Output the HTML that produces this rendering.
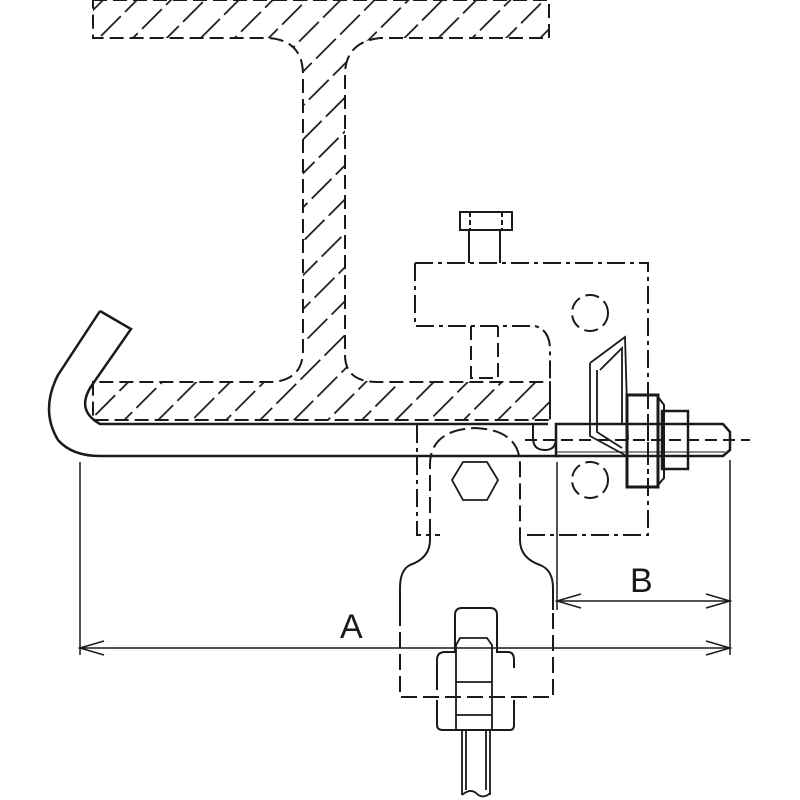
<!DOCTYPE html>
<html><head><style>html,body{margin:0;padding:0;background:#fff}svg{display:block}</style></head><body>
<svg width="800" height="800" viewBox="0 0 800 800" xmlns="http://www.w3.org/2000/svg" fill="none" stroke="#1a1a1a" stroke-width="2">
<defs>
<pattern id="h" patternUnits="userSpaceOnUse" width="24" height="34" patternTransform="rotate(45)">
<line x1="0" y1="0" x2="0" y2="34" stroke="#1a1a1a" stroke-width="3.5" stroke-dasharray="22 6"/>
</pattern>
<clipPath id="beam"><path d="M93,0 L549,0 L549,38 L380,38 Q345,42 345,75 L345,355 Q345,382 378,382 L550,382 L550,420 L93,420 L93,382 L272,382 Q303,380 303,350 L303,75 Q303,40 268,38 L93,38 Z"/></clipPath>
</defs>
<g stroke-dasharray="14 6">
<rect x="0" y="0" width="800" height="800" fill="url(#h)" stroke="none" clip-path="url(#beam)"/>
<path d="M93,0 L549,0 L549,38 L380,38 Q345,42 345,75 L345,355 Q345,382 378,382 L550,382 L550,420 L93,420 L93,382 L272,382 Q303,380 303,350 L303,75 Q303,40 268,38 L93,38 Z"/>
<path d="M415,263 L648,263 L648,535 L525,535 M415,263 L415,326 L535,326 Q550,330 550,350 L550,420 M417,425 L417,535 L440,535" stroke-dasharray="18 5 4 5"/>
<circle cx="590" cy="313" r="18"/>
<circle cx="590" cy="480" r="18"/>
<path d="M471,326 L471,378 L498,378 L498,326"/>
</g>
<path d="M460,212 L512,212 L512,230 L460,230 Z"/>
<path d="M469,230 L469,263 M500,230 L500,263"/>
<path d="M470,212 L470,230 M502,212 L502,230" stroke-dasharray="5 3"/>
<path d="M100,311 L131,329 L92,385 Q75,410 100,424 L548,424" stroke-width="2.5"/>
<path d="M100,311 L58,375 Q40,410 58,440 Q72,456 100,456 L560,456" stroke-width="2.5"/>
<path d="M533,424 L533,438 Q533,450 545,450 Q556,450 556,438 L556,424" />
<path d="M556,424 L723,424 L730,432 L730,450 L723,456 L556,456 Z" stroke-width="2.5"/>
<line x1="556" y1="452" x2="725" y2="452" stroke-width="1"/>
<line x1="525" y1="440" x2="750" y2="440" stroke-dasharray="12 6"/>
<path d="M590,363 L625,337 L628,440 M600,370 L622,348 L622,425 M590,363 L590,436 L625,455 M597,370 L597,432 L622,448" stroke-width="1.8"/>
<rect x="627" y="395" width="31" height="92" stroke-width="3"/>
<path d="M658,397 L664,405 L664,478 L658,485" stroke-width="2"/>
<rect x="662" y="411" width="26" height="58" stroke-width="2.5"/>
<line x1="648" y1="395" x2="648" y2="487" stroke-dasharray="14 5 4 5"/>
<path d="M430,535 L430,465 Q430,430 475,428 Q520,430 520,465 L520,535" stroke-dasharray="16 6"/>
<path d="M430,535 L430,540 Q430,558 410,565 Q400,570 400,588 L400,610 M520,535 L520,540 Q520,558 540,565 Q553,570 553,588 L553,610" stroke-width="2"/>
<path d="M400,610 L400,697 L553,697 L553,610" stroke-dasharray="16 6"/>
<polygon points="463,462 487,462 498,480 487,500 463,500 452,480" stroke-width="1.8"/>
<path d="M437,690 L437,660 Q437,652 445,652 L455,652 L455,615 Q455,608 462,608 L490,608 Q497,608 497,615 L497,652 L508,652 Q514,652 514,660 L514,668" stroke-width="2"/>
<path d="M437,700 L437,725 Q437,730 443,730 L510,730 Q514,730 514,725 L514,700" stroke-width="2"/>
<path d="M456,645 L460,638 L487,638 L492,645 L492,730 M456,645 L456,730 M456,682 L492,682 M456,715 L492,715" stroke-width="1.8"/>
<path d="M462,730 L462,795 M490,730 L490,795 M466,730 L466,790 M486,730 L486,790" stroke-width="1.8"/>
<path d="M462,795 Q470,788 476,793 Q483,800 490,793" stroke-width="1.8"/>
<g stroke-width="1.5">
<line x1="80" y1="462" x2="80" y2="655"/>
<line x1="730" y1="460" x2="730" y2="655"/>
<line x1="557" y1="462" x2="557" y2="610"/>
<line x1="80" y1="648" x2="730" y2="648"/>
<line x1="557" y1="601" x2="730" y2="601"/>
<path d="M104,641 L80,648 L104,655 M706,641 L730,648 L706,655 M581,594 L557,601 L581,608 M706,594 L730,601 L706,608"/>
</g>
<text x="340" y="638" font-family="Liberation Sans, sans-serif" font-size="34" fill="#1a1a1a" stroke="none">A</text>
<text x="630" y="592" font-family="Liberation Sans, sans-serif" font-size="34" fill="#1a1a1a" stroke="none">B</text>
</svg>
</body></html>
